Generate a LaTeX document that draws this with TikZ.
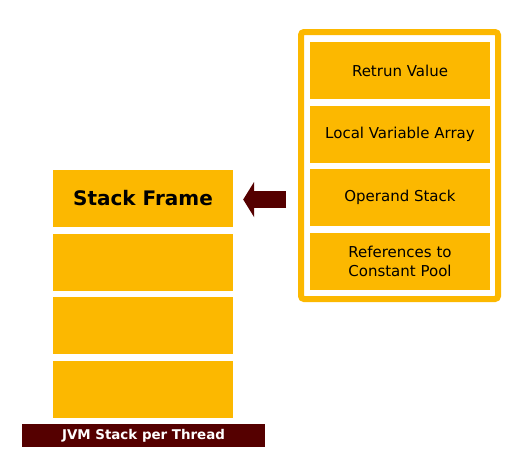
\documentclass[tikz,border=0pt]{standalone}
\usepackage{fontspec}
\setmainfont{DejaVu Sans}
\usetikzlibrary{arrows.meta}
\definecolor{jvmyellow}{HTML}{FCB800}
\definecolor{jvmred}{HTML}{550000}
\tikzset{
  framebox/.style={fill=jvmyellow, inner sep=0pt, minimum width=180pt, minimum height=57pt},
  partbox/.style={framebox, align=center, font=\fontsize{15}{18.5}\selectfont},
  bigarrow/.style={draw=jvmred, line width=17pt, -{Triangle[length=11pt,width=35pt]}, shorten >=10pt}
}
\begin{document}
\begin{tikzpicture}[x=1pt, y=-1pt]
\useasboundingbox (0,0) rectangle (522,461);
% JVM stack
\node[framebox, font=\bfseries\fontsize{20}{24}\selectfont] (sf0) at (143,198.5){Stack Frame};
\node[framebox] (sf1) at (143,262){};
\node[framebox] (sf2) at (143,325.5){};
\node[framebox] (sf3) at (143,389.5){};
\node[fill=jvmred, text=white, inner sep=0pt, minimum width=243pt, minimum height=23pt, font=\bfseries\fontsize{13.4}{16}\selectfont] (stk) at (143.5,435.5){JVM Stack per Thread};
% frame contents
\node[draw=jvmyellow, line width=6pt, rounded corners=3pt, minimum width=197pt, minimum height=267pt] (frame) at (399.5,165.5){};
\node[partbox] (ret) at (400,70.5){Retrun Value};
\node[partbox] (lva) at (400,134){Local Variable Array};
\node[partbox] (ops) at (400,197.5){Operand Stack};
\node[partbox] (ref) at (400,261.5){References to\\Constant Pool};
\coordinate (tail) at (286,199.5);
\draw[bigarrow] (tail) -- (sf0.east |- tail);
\end{tikzpicture}
\end{document}
